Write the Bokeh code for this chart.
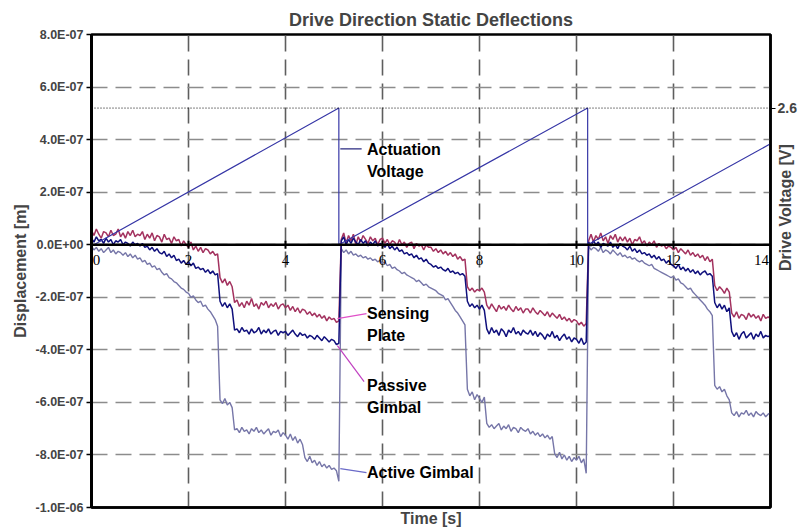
import numpy as np
from bokeh.plotting import figure
from bokeh.models import (Range1d, LinearAxis, FixedTicker, Span, Label, LabelSet,
                          ColumnDataSource)
from bokeh.embed import file_html
from bokeh.resources import INLINE

FONT = "Liberation Sans"

# ---------------- data (displacements in units of 1E-07 m) ----------------
time_s = np.round(np.arange(281) * 0.05, 2)   # sampling grid 0 .. 14 s

sensing_plate = [
    0.55, 0.35, 0.6, 0.4, 0.25, 0.5, 0.45, 0.3, 0.55, 0.35, 0.4, 0.6, 0.3, 0.45, 0.25, 0.5, 0.35, 0.55, 0.3, 0.4,
    0.35, 0.5, 0.2, 0.4, 0.25, 0.45, 0.15, 0.35, 0.3, 0.1, 0.4, 0.2, 0.25, 0.05, 0.3, 0.15, 0.2, -0.05, 0.15, 0.0,
    -0.1, 0.1, -0.2, -0.05, -0.25, -0.1, -0.3, -0.15, -0.2, -0.35, -0.25, -0.4, -0.35, -1.25, -1.45, -1.3, -1.55, -1.4, -1.6, -2.2,
    -2.1, -2.35, -2.2, -2.4, -2.15, -2.3, -2.05, -2.35, -2.25, -2.45, -2.2, -2.3, -2.15, -2.4, -2.25, -2.35, -2.2, -2.45, -2.3, -2.25,
    -2.4, -2.3, -2.5, -2.35, -2.55, -2.4, -2.6, -2.45, -2.5, -2.65, -2.55, -2.7, -2.6, -2.75, -2.65, -2.8, -2.7, -2.9, -2.75, -2.85,
    -2.8, -2.95, -2.9, 0.2, 0.45, 0.05, 0.35, 0.15, 0.4, 0.0, 0.3, 0.1, 0.35, 0.2, 0.05, 0.3, 0.15, 0.25, 0.0, 0.2,
    0.25, 0.05, 0.2, 0.0, 0.15, 0.1, -0.05, 0.2, 0.0, 0.1, -0.1, 0.05, 0.1, -0.15, 0.05, -0.05, 0.0, -0.2, 0.0, -0.1,
    -0.1, -0.25, -0.15, -0.3, -0.2, -0.35, -0.25, -0.4, -0.3, -0.45, -0.35, -0.55, -0.45, -0.6, -0.55, -1.6, -1.75, -1.65, -1.8, -1.7,
    -1.75, -1.65, -1.8, -2.3, -2.45, -2.25, -2.4, -2.55, -2.3, -2.45, -2.35, -2.5, -2.3, -2.45, -2.55, -2.35, -2.5, -2.4, -2.6, -2.45,
    -2.45, -2.6, -2.4, -2.55, -2.65, -2.5, -2.6, -2.7, -2.55, -2.75, -2.6, -2.7, -2.8, -2.65, -2.85, -2.75, -2.9, -2.8, -2.95, -2.85,
    -2.9, -3.05, -2.95, -3.1, -3.0, 0.15, 0.4, 0.1, 0.35, 0.2, 0.45, 0.15, 0.3, 0.05, 0.35, 0.2, 0.4, 0.1, 0.3, 0.15,
    0.3, 0.1, 0.25, 0.0, 0.2, 0.15, 0.3, 0.05, 0.15, -0.05, 0.1, 0.0, 0.15, -0.1, 0.05, -0.05, 0.0, -0.15, -0.05, -0.1,
    -0.2, -0.1, -0.3, -0.15, -0.25, -0.35, -0.2, -0.4, -0.3, -0.45, -0.35, -0.5, -0.4, -0.6, -0.45, -0.65, -0.55, -1.55, -1.75, -1.6,
    -1.7, -1.85, -1.65, -1.8, -2.6, -2.75, -2.55, -2.8, -2.65, -2.7, -2.85, -2.6, -2.75, -2.65, -2.8, -2.7, -2.9, -2.65, -2.8, -2.75,
    -2.8,
]

passive_gimbal = [
    0.25, 0.1, 0.3, 0.15, 0.2, 0.05, 0.25, 0.1, 0.2, 0.0, 0.15, 0.1, 0.2, 0.0, 0.1, 0.05, -0.05, 0.1, 0.0, 0.05,
    -0.05, 0.05, -0.1, -0.05, -0.2, -0.1, -0.25, -0.15, -0.3, -0.35, -0.25, -0.45, -0.35, -0.5, -0.4, -0.6, -0.55, -0.7, -0.6, -0.75,
    -0.65, -0.8, -0.7, -0.9, -0.85, -0.95, -0.9, -1.05, -0.95, -1.1, -1.0, -1.15, -1.1, -2.15, -2.35, -2.2, -2.4, -2.25, -2.45, -3.25,
    -3.2, -3.35, -3.15, -3.3, -3.25, -3.4, -3.2, -3.35, -3.3, -3.15, -3.4, -3.25, -3.35, -3.2, -3.4, -3.3, -3.25, -3.45, -3.3, -3.35,
    -3.3, -3.45, -3.35, -3.25, -3.4, -3.5, -3.35, -3.45, -3.4, -3.55, -3.45, -3.5, -3.6, -3.45, -3.55, -3.65, -3.5, -3.6, -3.7, -3.6,
    -3.65, -3.8, -3.75, 0.15, 0.3, 0.0, 0.2, 0.05, 0.25, 0.1, 0.0, 0.2, 0.05, 0.15, -0.05, 0.1, 0.0, 0.15, -0.05, 0.05,
    0.0, -0.1, 0.05, -0.15, -0.05, -0.2, -0.1, -0.25, -0.2, -0.35, -0.3, -0.4, -0.35, -0.5, -0.4, -0.55, -0.5, -0.65, -0.55, -0.7,
    -0.75, -0.85, -0.8, -0.9, -0.85, -0.95, -1.0, -0.9, -1.05, -1.0, -1.1, -1.05, -1.15, -1.1, -1.2, -2.15, -2.35, -2.25, -2.4, -2.3,
    -2.45, -2.3, -2.5, -3.2, -3.4, -3.15, -3.35, -3.25, -3.45, -3.2, -3.3, -3.5, -3.25, -3.35, -3.15, -3.4, -3.3, -3.45, -3.25, -3.35,
    -3.4, -3.25, -3.45, -3.3, -3.5, -3.35, -3.45, -3.6, -3.4, -3.5, -3.3, -3.55, -3.45, -3.65, -3.5, -3.4, -3.6, -3.5, -3.7, -3.55,
    -3.6, -3.75, -3.55, -3.8, -3.7, 0.1, -0.05, 0.15, 0.0, 0.1, -0.1, 0.05, 0.0, -0.05, 0.1, -0.1, 0.0, -0.15, 0.05, -0.05,
    -0.1, -0.2, -0.05, -0.25, -0.15, -0.3, -0.2, -0.35, -0.3, -0.4, -0.35, -0.5, -0.4, -0.55, -0.45, -0.6, -0.55, -0.7, -0.6, -0.75,
    -0.8, -0.9, -0.75, -0.95, -0.85, -1.0, -0.9, -1.05, -0.95, -1.1, -1.0, -1.15, -1.05, -1.0, -1.15, -1.1, -1.2, -2.2, -2.4, -2.25,
    -2.45, -2.3, -2.55, -2.4, -3.3, -3.5, -3.35, -3.6, -3.4, -3.3, -3.55, -3.45, -3.35, -3.6, -3.4, -3.5, -3.3, -3.55, -3.45, -3.5,
    -3.45,
]

active_gimbal = [
    -0.05, -0.2, -0.1, -0.25, -0.15, -0.3, -0.2, -0.1, -0.3, -0.2, -0.35, -0.25, -0.3, -0.4, -0.3, -0.45, -0.35, -0.5, -0.4, -0.55,
    -0.5, -0.65, -0.6, -0.75, -0.7, -0.85, -0.8, -0.95, -0.9, -1.05, -1.15, -1.1, -1.25, -1.3, -1.4, -1.45, -1.55, -1.65, -1.7, -1.8,
    -1.85, -2.0, -1.95, -2.1, -2.2, -2.15, -2.35, -2.3, -2.45, -2.55, -2.7, -2.85, -3.1, -5.9, -6.05, -5.85, -6.1, -6.0, -6.2, -7.05,
    -7.0, -7.15, -6.95, -7.1, -7.05, -7.2, -7.0, -7.1, -6.95, -7.15, -7.05, -7.2, -7.1, -7.0, -7.25, -7.1, -7.15, -7.05, -7.3, -7.15,
    -7.25, -7.4, -7.2, -7.45, -7.3, -7.55, -7.4, -7.6, -8.1, -8.25, -8.05, -8.3, -8.2, -8.4, -8.25, -8.45, -8.35, -8.5, -8.4, -8.55,
    -8.5, -8.6, -9.0, -0.15, -0.3, -0.2, -0.35, -0.25, -0.4, -0.35, -0.45, -0.4, -0.5, -0.45, -0.55, -0.5, -0.6, -0.55, -0.65, -0.6,
    -0.7, -0.65, -0.8, -0.75, -0.9, -0.85, -0.95, -1.0, -1.1, -1.05, -1.15, -1.2, -1.25, -1.3, -1.4, -1.35, -1.45, -1.55, -1.5, -1.6,
    -1.65, -1.7, -1.75, -1.85, -1.9, -1.95, -2.1, -2.05, -2.2, -2.35, -2.5, -2.6, -2.75, -2.9, -3.05, -5.5, -5.75, -5.6, -5.9, -5.7,
    -5.85, -6.0, -5.8, -6.8, -6.95, -6.85, -7.0, -6.9, -6.8, -7.05, -6.9, -7.0, -6.85, -7.1, -6.95, -7.0, -7.15, -6.95, -7.05, -7.1,
    -7.0, -7.2, -7.1, -7.25, -7.15, -7.3, -7.2, -7.35, -7.25, -7.4, -7.3, -7.95, -8.1, -7.9, -8.15, -8.0, -8.2, -8.05, -8.25, -8.1,
    -8.2, -8.05, -8.3, -8.15, -8.7, -0.05, -0.2, -0.1, -0.15, -0.25, -0.1, -0.3, -0.2, -0.25, -0.35, -0.2, -0.3, -0.4, -0.3, -0.45,
    -0.4, -0.5, -0.45, -0.55, -0.5, -0.6, -0.65, -0.6, -0.7, -0.75, -0.8, -0.75, -0.9, -0.95, -1.0, -1.05, -1.1, -1.15, -1.2, -1.25,
    -1.2, -1.35, -1.3, -1.45, -1.5, -1.6, -1.7, -1.65, -1.8, -1.9, -2.0, -2.1, -2.2, -2.3, -2.45, -2.55, -2.7, -5.35, -5.5, -5.4,
    -5.6, -5.5, -5.75, -5.9, -6.4, -6.5, -6.35, -6.55, -6.4, -6.45, -6.3, -6.5, -6.4, -6.55, -6.35, -6.45, -6.5, -6.4, -6.55, -6.45,
    -6.4,
]

voltage_t = [0.05, 5.10, 5.10, 10.23, 10.23, 14.0]
voltage_v = [0.0, 2.6, 0.0, 2.6, 0.0, 1.92]

disp_ticks = [-10, -8, -6, -4, -2, 0, 2, 4, 6, 8]
disp_tick_labels = ["-1.0E-06", "-8.0E-07", "-6.0E-07", "-4.0E-07", "-2.0E-07",
                    "0.0E+00", "2.0E-07", "4.0E-07", "6.0E-07", "8.0E-07"]
time_ticks = [0, 2, 4, 6, 8, 10, 12, 14]
time_tick_labels = ["0", "2", "4", "6", "8", "10", "12", "14"]
volt_ticks = [2.6]
volt_tick_labels = ["2.6"]

assert len(sensing_plate) == len(time_s)
assert len(passive_gimbal) == len(time_s)
assert len(active_gimbal) == len(time_s)

# ---------------- styles ----------------
C_SENS = "#A3325F"
C_PASS = "#10107C"
C_ACT = "#7676A8"
C_VOLT = "#3636A6"

p = figure(frame_width=679, frame_height=473,
           x_range=Range1d(0, 14), y_range=Range1d(-10, 8),
           output_backend="svg", toolbar_location=None,
           min_border_left=91, min_border_right=31, min_border_top=34, min_border_bottom=24,
           title="Drive Direction Static Deflections")
p.background_fill_color = "white"
p.border_fill_color = "white"
p.outline_line_color = "black"
p.outline_line_width = 2.5

p.title.align = "center"
p.title.text_font = FONT
p.title.text_font_size = "18px"
p.title.text_font_style = "bold"
p.title.standoff = 10

p.extra_y_ranges = {"volt": Range1d(-5, 4)}

# left axis
ya = p.yaxis[0]
ya.ticker = FixedTicker(ticks=disp_ticks)
ya.major_label_overrides = dict(zip(disp_ticks, disp_tick_labels))
ya.major_label_text_font = FONT
ya.major_label_text_font_size = "12.5px"
ya.major_label_text_font_style = "bold"
ya.major_label_standoff = 3
ya.major_tick_out = 5
ya.major_tick_in = 0
ya.minor_tick_out = 0
ya.minor_tick_in = 0
ya.axis_line_width = 3
ya.axis_line_color = "black"
ya.major_tick_line_width = 1.5
ya.axis_label = "Displacement [m]"
ya.axis_label_text_font = FONT
ya.axis_label_text_font_size = "16px"
ya.axis_label_text_font_style = "bold"
ya.axis_label_standoff = 4

# bottom axis (only the title)
xa = p.xaxis[0]
xa.ticker = FixedTicker(ticks=[])
xa.major_tick_out = 0
xa.minor_tick_out = 0
xa.axis_line_width = 2.5
xa.axis_line_color = "black"
xa.axis_label = "Time [s]"
xa.axis_label_text_font = FONT
xa.axis_label_text_font_size = "16px"
xa.axis_label_text_font_style = "bold"
xa.axis_label_standoff = 2

# right axis (drive voltage)
ra = LinearAxis(y_range_name="volt", ticker=FixedTicker(ticks=volt_ticks),
                major_label_overrides=dict(zip(volt_ticks, volt_tick_labels)))
ra.major_label_text_font = FONT
ra.major_label_text_font_size = "14px"
ra.major_label_text_font_style = "bold"
ra.major_label_standoff = 2
ra.major_tick_out = 5
ra.major_tick_in = 0
ra.minor_tick_out = 0
ra.minor_tick_in = 0
ra.axis_line_width = 2.5
ra.axis_line_color = "black"
ra.axis_label = "Drive Voltage [V]"
ra.axis_label_text_font = FONT
ra.axis_label_text_font_size = "16px"
ra.axis_label_text_font_style = "bold"
ra.axis_label_orientation = np.pi / 2
ra.axis_label_standoff = -14
p.add_layout(ra, "right")

# grids
p.xgrid.ticker = FixedTicker(ticks=time_ticks[1:-1])
p.xgrid.grid_line_color = "#5e5e5e"
p.xgrid.grid_line_width = 1.6
p.xgrid.grid_line_dash = "16 8"
p.ygrid.ticker = FixedTicker(ticks=disp_ticks)
p.ygrid.grid_line_color = "#8c8c8c"
p.ygrid.grid_line_width = 1.6
p.ygrid.grid_line_dash = "16 8"

# dotted 2.6 V reference
p.add_layout(Span(location=volt_ticks[0], dimension="width", y_range_name="volt",
                  line_color="black", line_width=1, line_dash="1 2"))

# series
src = ColumnDataSource(dict(t=time_s, sp=sensing_plate, pg=passive_gimbal, ag=active_gimbal))
p.line("t", "ag", source=src, line_color=C_ACT, line_width=1.4)
p.line("t", "sp", source=src, line_color=C_SENS, line_width=1.5)
p.line("t", "pg", source=src, line_color=C_PASS, line_width=1.5)
p.line(voltage_t, voltage_v, y_range_name="volt", line_color=C_VOLT, line_width=1.2)

# zero line
p.add_layout(Span(location=0, dimension="width", line_color="black", line_width=2.5))

# x tick marks and labels along the zero line
p.scatter(time_ticks[1:-1], [0] * (len(time_ticks) - 2), marker="dash", angle=np.pi / 2,
          size=8, line_color="black", line_width=2)
label_dx = [5, 0, 0, 0, 0, 0, 0, -9]
xt_src = ColumnDataSource(dict(t=time_ticks, v=[0] * len(time_ticks), txt=time_tick_labels,
                               dx=label_dx))
p.add_layout(LabelSet(x="t", y="v", text="txt", source=xt_src, x_offset="dx", y_offset=-15,
                      text_align="center", text_baseline="middle",
                      text_font=FONT, text_font_size="15px", text_color="black"))

# annotation leaders
lead_x0 = [5.13, 5.07, 5.07, 5.13]
lead_y0 = [3.65, -2.81, -3.84, -8.52]
lead_x1 = [5.57, 5.67, 5.62, 5.67]
lead_y1 = [3.65, -2.62, -5.21, -8.67]
lead_c = ["#2a2a80", "#E050C8", "#C040C0", "#6A6AC8"]
p.segment(lead_x0, lead_y0, lead_x1, lead_y1, line_color=lead_c, line_width=1.2)

ann_text = ["Actuation", "Voltage", "Sensing", "Plate", "Passive", "Gimbal", "Active Gimbal"]
ann_y = [3.61, 2.78, -2.62, -3.46, -5.36, -6.20, -8.67]
for txt, yy in zip(ann_text, ann_y):
    p.add_layout(Label(x=5.68, y=yy, text=txt, text_align="left", text_baseline="middle",
                       text_font=FONT, text_font_size="16px", text_font_style="bold",
                       text_color="black"))

open("out.html", "w").write(file_html(p, INLINE))
